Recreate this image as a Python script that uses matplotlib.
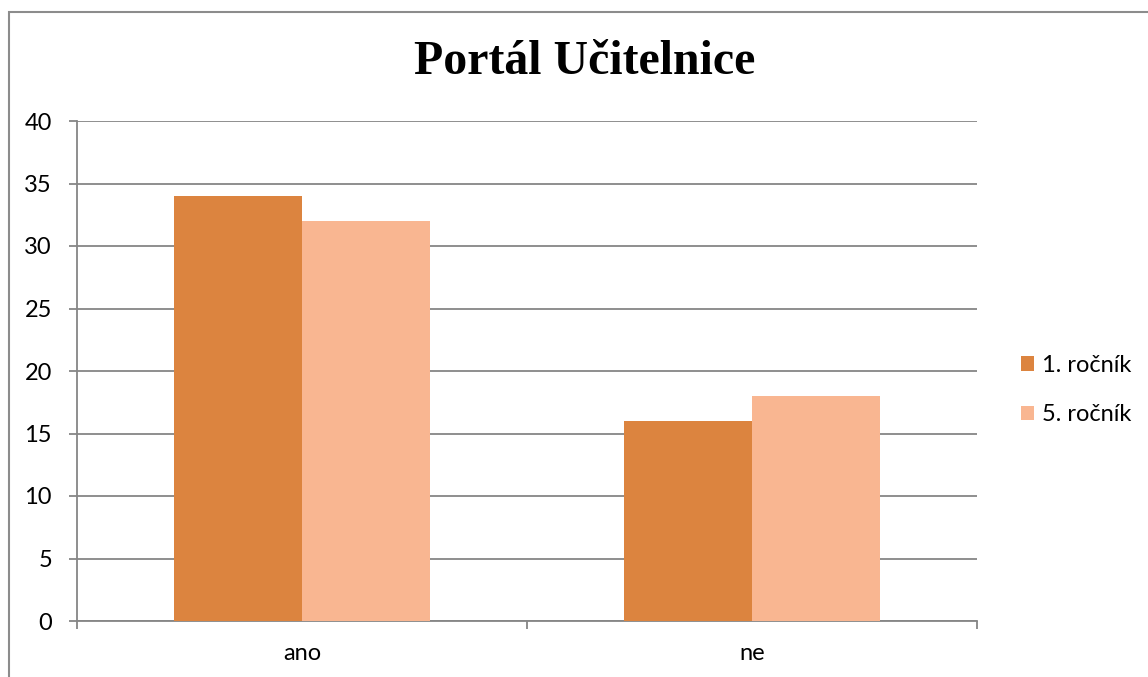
import matplotlib
matplotlib.use("Agg")
import matplotlib.pyplot as plt
from matplotlib.patches import Rectangle
import numpy as np

categories = ["ano", "ne"]
series_names = ["1. ročník", "5. ročník"]
values_1 = [34, 16]
values_5 = [32, 18]
y_ticks = [0, 5, 10, 15, 20, 25, 30, 35, 40]
title = "Portál Učitelnice"

colors = ["#DC843F", "#F9B691"]
grid_color = "#868686"

W, H = 1148, 677
fig = plt.figure(figsize=(W / 100, H / 100), dpi=100)
fig.patch.set_facecolor("white")

# outer chart border
fig.add_artist(Rectangle((8.5 / W, -0.01), 1.2, 1 - 11.5 / H + 0.01, transform=fig.transFigure,
                         fill=False, edgecolor="#8C8C8C", linewidth=1.5))

ax = fig.add_axes([77 / W, 1 - 621 / H, 900 / W, 500 / H])
x = np.arange(len(categories)) + 0.5
bw = 128 / 450
ax.bar(x - bw / 2, values_1, bw, color=colors[0], label=series_names[0], zorder=3)
ax.bar(x + bw / 2, values_5, bw, color=colors[1], label=series_names[1], zorder=3)

ax.set_xlim(0, 2)
ax.set_ylim(0, 40)
ax.set_yticks(y_ticks)
ax.set_yticklabels([str(v) for v in y_ticks], fontsize=17, family="Lato")
ax.yaxis.grid(True, color=grid_color, linewidth=1.3, zorder=0)
ax.set_axisbelow(True)

ax.set_xticks([0, 1, 2])
ax.set_xticklabels([])
ax.set_xticks(x, minor=True)
ax.set_xticklabels(categories, minor=True, fontsize=17, family="Lato")
ax.tick_params(axis="x", which="minor", length=0, pad=16)
ax.tick_params(axis="x", which="major", length=6, color=grid_color, width=1.3)
ax.tick_params(axis="y", length=6, color=grid_color, width=1.3, pad=12)

for s in ["top", "right"]:
    ax.spines[s].set_visible(False)
for s in ["left", "bottom"]:
    ax.spines[s].set_color(grid_color)
    ax.spines[s].set_linewidth(1.3)

fig.text(585 / W, 1 - 62 / H, title, ha="center", va="center",
         fontsize=34.5, fontweight="bold", family="Liberation Serif")

leg = fig.legend(loc="center left", bbox_to_anchor=(1000 / W, 1 - 390 / H),
                 frameon=False, prop={"family": "Lato", "size": 17},
                 handlelength=0.55, handleheight=0.55, handletextpad=0.35,
                 labelspacing=1.2)

fig.savefig("out.png", dpi=100)
